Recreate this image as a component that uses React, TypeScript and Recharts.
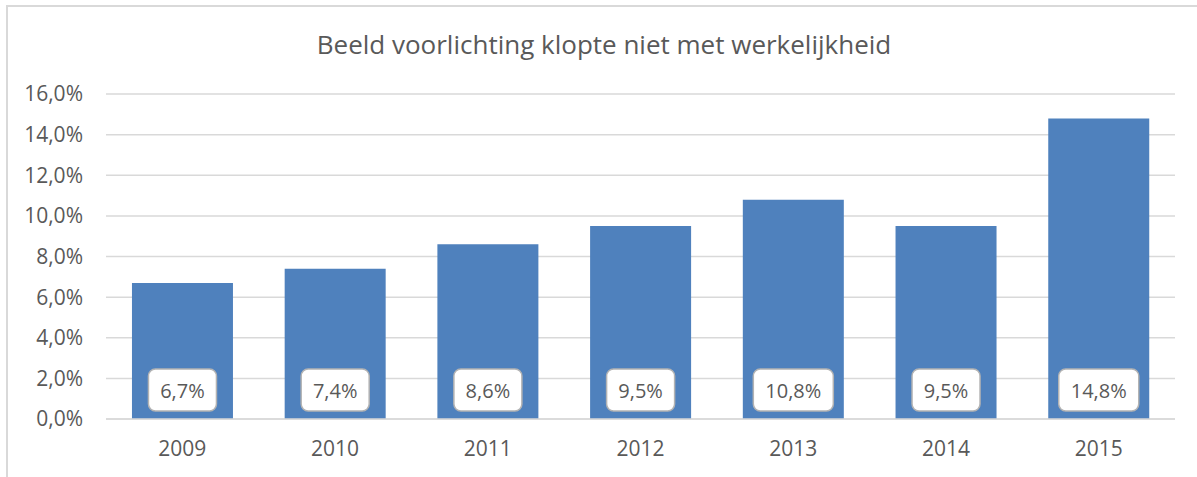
import React from "react";
import { BarChart, Bar, XAxis, YAxis, CartesianGrid, LabelList } from "recharts";

const years = ["2009", "2010", "2011", "2012", "2013", "2014", "2015"];
const shares = [6.7, 7.4, 8.6, 9.5, 10.8, 9.5, 14.8];
const yTicks = [0, 2, 4, 6, 8, 10, 12, 14, 16];
const title = "Beeld voorlichting klopte niet met werkelijkheid";

const data = years.map((year, i) => ({ year, value: shares[i] }));

const FONT = "'Open Sans', 'Liberation Sans', sans-serif";
const TEXT = "#595959";

const fmt = (v: number) => v.toFixed(1).replace(".", ",") + "%";

const ValueBox = (props: any) => {
  const { x, y, width, height, value } = props;
  const label = fmt(Number(value));
  const w = 20 + label.length * 12;
  const h = 42;
  const cx = x + width / 2;
  const bottom = y + height;
  return (
    <g>
      <rect
        x={cx - w / 2}
        y={bottom - 50}
        width={w}
        height={h}
        rx={7}
        ry={7}
        fill="#ffffff"
        stroke="#b3b3b3"
        strokeWidth={1.5}
      />
      <text
        x={cx}
        y={bottom - 29}
        textAnchor="middle"
        dominantBaseline="central"
        fontFamily={FONT}
        fontSize={20}
        fill={TEXT}
      >
        {label}
      </text>
    </g>
  );
};

export default function App() {
  return (
    <div style={{ position: "absolute", left: 0, top: 0, width: 1197, height: 477, background: "#fff" }}>
      <div
        style={{
          position: "absolute",
          left: 6,
          top: 5,
          width: 1300,
          height: 600,
          border: "2px solid #d9d9d9",
          boxSizing: "border-box",
        }}
      />
      <div
        style={{
          position: "absolute",
          left: 0,
          top: 27,
          width: 1208,
          textAlign: "center",
          fontFamily: FONT,
          fontSize: 26,
          color: TEXT,
          lineHeight: "34px",
        }}
      >
        {title}
      </div>
      <div style={{ position: "absolute", left: 0, top: 0 }}>
        <BarChart
          width={1197}
          height={477}
          data={data}
          margin={{ top: 94, right: 22, bottom: 0, left: 0 }}
          barCategoryGap="17%"
        >
          <CartesianGrid vertical={false} stroke="#d9d9d9" strokeWidth={1.5} />
          <XAxis
            dataKey="year"
            height={58}
            tickLine={false}
            axisLine={{ stroke: "#d9d9d9", strokeWidth: 1.5 }}
            tickSize={0}
            tickMargin={22}
            tick={{ fontFamily: FONT, fontSize: 21, fill: TEXT }}
          />
          <YAxis
            width={106}
            domain={[0, 16]}
            ticks={yTicks}
            interval={0}
            tickFormatter={fmt}
            tickLine={false}
            axisLine={false}
            tickSize={0}
            tickMargin={23}
            tick={{ fontFamily: FONT, fontSize: 21, fill: TEXT }}
          />
          <Bar dataKey="value" fill="#4f81bd" isAnimationActive={false}>
            <LabelList dataKey="value" content={ValueBox} />
          </Bar>
        </BarChart>
      </div>
    </div>
  );
}
